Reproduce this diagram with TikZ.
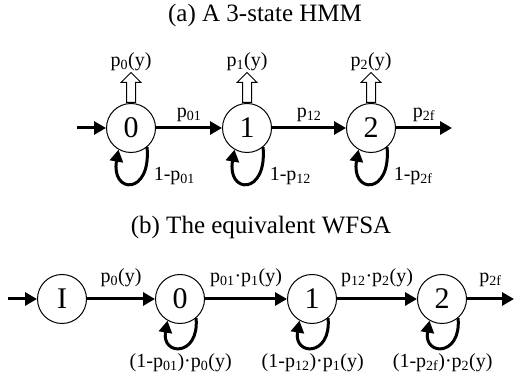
\documentclass[tikz,border=0pt]{standalone}
\usepackage{fontspec}
\setmainfont{Liberation Serif}
\usetikzlibrary{arrows.meta,positioning,calc,shapes.arrows}

\begin{document}
\begin{tikzpicture}[x=1pt, y=1pt,
    state/.style={circle, draw=black, line width=1pt, minimum size=49pt,
                inner sep=0pt, font=\fontsize{30}{32}\selectfont},
    lbl/.style={font=\fontsize{20}{22}\selectfont, inner sep=1pt},
    ttl/.style={font=\fontsize{25}{28}\selectfont},
    arr/.style={-{Triangle[length=12pt, width=13pt]}, line width=3pt},
    loopa/.style={-{Triangle[length=12pt, width=13pt]}, line width=3pt,
                out=-85, in=-100, out distance=49pt, in distance=45pt},
    loopb/.style={loopa, out distance=39pt, in distance=36pt},
    emit/.style={single arrow, draw=black, fill=white, line width=1pt,
                rotate=90, inner xsep=0pt, inner ysep=4pt, minimum height=30pt,
                single arrow head extend=5.5pt, single arrow head indent=0pt},
]
\useasboundingbox (0,0) rectangle (514,379);

% --- (a) A 3-state HMM ---
\node[ttl] (ta) at (265,364) {(a) A 3-state HMM};
\node[state] (a0) at (131,251) {0};
\node[state] (a1) at (247,251) {1};
\node[state] (a2) at (371,251) {2};
\coordinate (ain) at (77,251);
\coordinate (aout) at (452,251);

\draw[arr] (ain) -- (a0);
\draw[arr] (a0) -- node[lbl, above=4pt] {p\textsubscript{01}} (a1);
\draw[arr] (a1) -- node[lbl, above=4pt] {p\textsubscript{12}} (a2);
\draw[arr] (a2) -- node[lbl, above=4pt] {p\textsubscript{2f}} (aout);

\draw[loopa] (a0.-50) to node[lbl, right, pos=0.3, xshift=10pt, yshift=2pt] {1-p\textsubscript{01}} (a0.-120);
\draw[loopa] (a1.-50) to node[lbl, right, pos=0.3, xshift=10pt, yshift=2pt] {1-p\textsubscript{12}} (a1.-120);
\draw[loopa] (a2.-50) to node[lbl, right, pos=0.3, xshift=10pt, yshift=2pt] {1-p\textsubscript{2f}} (a2.-120);

% emissions
\node[emit, anchor=tail] (e0) at (a0.north) {};
\node[emit, anchor=tail] (e1) at (a1.north) {};
\node[emit, anchor=tail] (e2) at (a2.north) {};
\node[lbl, anchor=south] (y0) at (e0.tip) {p\textsubscript{0}(y)};
\node[lbl, anchor=south] (y1) at (e1.tip) {p\textsubscript{1}(y)};
\node[lbl, anchor=south] (y2) at (e2.tip) {p\textsubscript{2}(y)};

% --- (b) The equivalent WFSA ---
\node[ttl] (tb) at (261,152) {(b) The equivalent WFSA};
\node[state] (bI) at (62,80) {I};
\node[state] (b0) at (180,80) {0};
\node[state] (b1) at (312,80) {1};
\node[state] (b2) at (442,80) {2};
\coordinate (bin) at (8,80);
\coordinate (bout) at (514,80);

\draw[arr] (bin) -- (bI);
\draw[arr] (bI) -- node[lbl, above=10pt] {p\textsubscript{0}(y)} (b0);
\draw[arr] (b0) -- node[lbl, above=10pt] {p\textsubscript{01}·p\textsubscript{1}(y)} (b1);
\draw[arr] (b1) -- node[lbl, above=10pt] {p\textsubscript{12}·p\textsubscript{2}(y)} (b2);
\draw[arr] (b2) -- node[lbl, above=10pt] {p\textsubscript{2f}} (bout);

\draw[loopb] (b0.-50) to node[lbl, below=4pt] {(1-p\textsubscript{01})·p\textsubscript{0}(y)} (b0.-120);
\draw[loopb] (b1.-50) to node[lbl, below=4pt] {(1-p\textsubscript{12})·p\textsubscript{1}(y)} (b1.-120);
\draw[loopb] (b2.-50) to node[lbl, below=4pt] {(1-p\textsubscript{2f})·p\textsubscript{2}(y)} (b2.-120);

\end{tikzpicture}
\end{document}
